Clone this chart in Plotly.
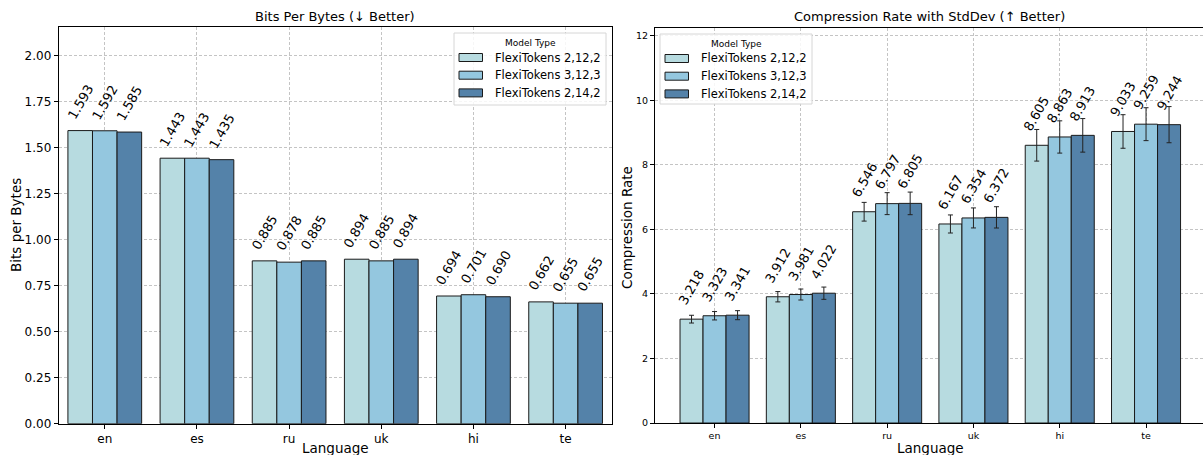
import plotly.graph_objects as go

W, H = 1203, 455

languages = ["en", "es", "ru", "uk", "hi", "te"]
models = ["FlexiTokens 2,12,2", "FlexiTokens 3,12,3", "FlexiTokens 2,14,2"]
colors = ["#b7dbe0", "#94c7df", "#5482a9"]

bpb_2_12_2 = [1.593, 1.443, 0.885, 0.894, 0.694, 0.662]
bpb_3_12_3 = [1.592, 1.443, 0.878, 0.885, 0.701, 0.655]
bpb_2_14_2 = [1.585, 1.435, 0.885, 0.894, 0.690, 0.655]

cr_2_12_2 = [3.218, 3.912, 6.546, 6.167, 8.605, 9.033]
cr_3_12_3 = [3.323, 3.981, 6.797, 6.354, 8.863, 9.259]
cr_2_14_2 = [3.341, 4.022, 6.805, 6.372, 8.913, 9.244]

cr_std_2_12_2 = [0.12, 0.16, 0.29, 0.28, 0.49, 0.52]
cr_std_3_12_3 = [0.13, 0.17, 0.34, 0.31, 0.50, 0.51]
cr_std_2_14_2 = [0.14, 0.19, 0.35, 0.33, 0.52, 0.56]

bpb = [bpb_2_12_2, bpb_3_12_3, bpb_2_14_2]
cr = [cr_2_12_2, cr_3_12_3, cr_2_14_2]
cr_std = [cr_std_2_12_2, cr_std_3_12_3, cr_std_2_14_2]

bpb_ticks = [0.0, 0.25, 0.5, 0.75, 1.0, 1.25, 1.5, 1.75, 2.0]
cr_ticks = [0, 2, 4, 6, 8, 10, 12]

FONT = "DejaVu Sans"


def X(px):
    return px / W


def Y(py):
    return 1 - py / H


fig = go.Figure()

for i, m in enumerate(models):
    fig.add_trace(go.Bar(
        x=languages, y=bpb[i], name=m, marker_color=colors[i],
        marker_line=dict(color="#1a1a1a", width=1), xaxis="x", yaxis="y",
        showlegend=False))
    fig.add_trace(go.Bar(
        x=languages, y=cr[i], name=m, marker_color=colors[i],
        marker_line=dict(color="#1a1a1a", width=1), xaxis="x2", yaxis="y2",
        error_y=dict(type="data", array=cr_std[i], color="#222222",
                     thickness=1, width=2.5),
        showlegend=False))

annotations = []
bw = 0.8 / 3
for i in range(3):
    off = (i - 1) * bw
    for j in range(len(languages)):
        annotations.append(dict(
            x=j + off, y=bpb[i][j], xref="x", yref="y", text=f"{bpb[i][j]:.3f}",
            showarrow=False, textangle=-60, xanchor="center", yanchor="bottom",
            yshift=6, font=dict(family=FONT, size=13, color="black")))
        annotations.append(dict(
            x=j + off, y=cr[i][j], xref="x2", yref="y2", text=f"{cr[i][j]:.3f}",
            showarrow=False, textangle=-60, xanchor="center", yanchor="bottom",
            yshift=9, font=dict(family=FONT, size=13, color="black")))


def txt(x, y, text, size, angle=0, xa="center", ya="middle"):
    return dict(x=X(x), y=Y(y), xref="paper", yref="paper", text=text,
                textangle=angle, showarrow=False, xanchor=xa, yanchor=ya,
                font=dict(family=FONT, size=size, color="black"))


annotations += [
    txt(335, 17, "Bits Per Bytes (↓ Better)", 13),
    txt(929, 17, "Compression Rate with StdDev (↑ Better)", 13),
    txt(16, 225, "Bits per Bytes", 13.5, angle=-90),
    txt(627, 228, "Compression Rate", 13.5, angle=-90),
    txt(335, 437.5, "Language", 13.5, ya="top"),
    txt(930, 437.5, "Language", 13.5, ya="top"),
]

shapes = []
# custom legends
for (bx0, by0, bx1, by1) in [(454, 33, 606, 105), (660, 34, 812, 104)]:
    shapes.append(dict(type="rect", xref="paper", yref="paper",
                       x0=X(bx0), x1=X(bx1), y0=Y(by1), y1=Y(by0),
                       fillcolor="rgba(255,255,255,0.85)",
                       line=dict(color="#d6d6d6", width=1), layer="above"))
    annotations.append(txt((bx0 + bx1) / 2, by0 + 9.5, "Model Type", 9))
    for k, m in enumerate(models):
        cy = by0 + 24.5 + k * 17.7
        shapes.append(dict(type="rect", xref="paper", yref="paper",
                           x0=X(bx0 + 5), x1=X(bx0 + 28.5), y0=Y(cy + 4), y1=Y(cy - 4),
                           fillcolor=colors[k], line=dict(color="#1a1a1a", width=1),
                           layer="above"))
        annotations.append(txt(bx0 + 38.5, cy, m, 11.5, xa="left"))

grid = dict(showgrid=True, gridcolor="#c4c4c4", griddash="3px,2px", gridwidth=0.8,
            automargin=False)

fig.update_layout(
    width=W, height=H, margin=dict(l=0, r=0, t=0, b=0, autoexpand=False),
    paper_bgcolor="white", plot_bgcolor="white",
    barmode="group", bargap=0.2, bargroupgap=0,
    font=dict(family=FONT, color="black"),
    xaxis=dict(domain=[X(58.7), X(611.7)], anchor="y", type="category",
               range=[-0.5, 5.5], showline=True, linecolor="black", linewidth=1,
               mirror=True, ticks="outside", ticklen=4, tickcolor="black",
               tickfont=dict(size=12), **grid),
    yaxis=dict(domain=[Y(423.7), Y(27)], anchor="x", range=[0, 2.156],
               tickvals=bpb_ticks, tickformat=".2f", showline=True, linecolor="black",
               linewidth=1, mirror=True, ticks="outside", ticklen=4, tickcolor="black",
               tickfont=dict(size=12), zeroline=False, **grid),
    xaxis2=dict(domain=[X(655), 1.0], anchor="y2", type="category",
                range=[-0.69, 5.66], showline=True, linecolor="black", linewidth=1,
                mirror=True, ticks="outside", ticklen=4, tickcolor="black",
                tickfont=dict(size=9.5), **grid),
    yaxis2=dict(domain=[Y(423), Y(28.3)], anchor="x2", range=[0, 12.23],
                tickvals=cr_ticks, showline=True, linecolor="black", linewidth=1,
                mirror=False, ticks="outside", ticklen=4, tickcolor="black",
                tickfont=dict(size=9.5), zeroline=False, **grid),
    annotations=annotations, shapes=shapes,
)

fig.write_html("out.html", config={"displayModeBar": False},
               post_script="document.body.style.margin='0';document.body.style.overflow='hidden';")
